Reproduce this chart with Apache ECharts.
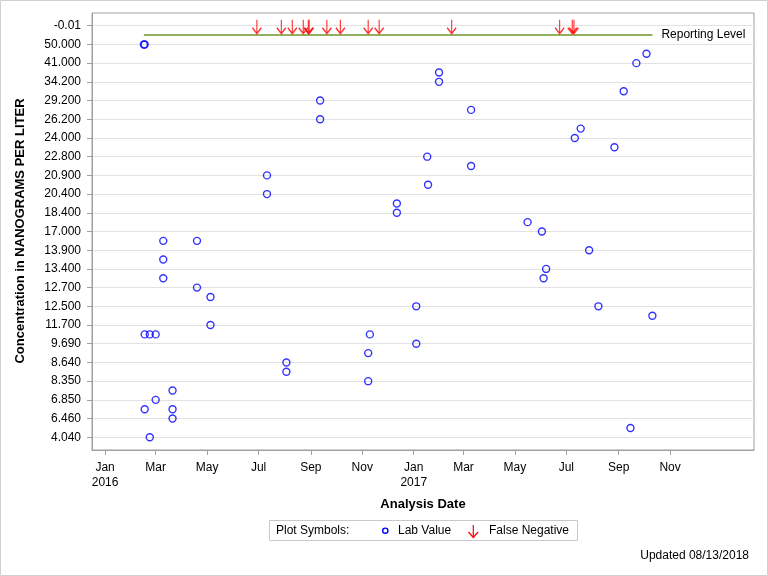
<!DOCTYPE html>
<html>
<head>
<meta charset="utf-8">
<script src="https://cdn.jsdelivr.net/npm/echarts@6/dist/echarts.min.js"></script>
<style>
html,body{margin:0;padding:0;background:#fff}
#chart{width:768px;height:576px}
</style>
</head>
<body>
<div id="chart"></div>
<script>
// Y axis: ordinal concentration levels, bottom (position 0) to top (position 22)
const yTickLabels = ['4.040','6.460','6.850','8.350','8.640','9.690','11.700','12.500','12.700','13.400','13.900',
  '17.000','18.400','20.400','20.900','22.800','24.000','26.200','29.200','34.200','41.000','50.000','-0.01'];

// X axis ticks
const xTickDates = ['2016-01-01','2016-03-01','2016-05-01','2016-07-01','2016-09-01','2016-11-01',
  '2017-01-01','2017-03-01','2017-05-01','2017-07-01','2017-09-01','2017-11-01'];
const xTickLabels = ['Jan\n2016','Mar','May','Jul','Sep','Nov','Jan\n2017','Mar','May','Jul','Sep','Nov'];
const xRange = ['2015-12-16T12:00','2018-02-08T12:00'];

// Lab values: analysis date and position on the ranked concentration axis
const labDates = ['2016-02-16','2016-02-17','2016-02-17','2016-02-23','2016-03-01','2016-02-17','2016-02-23','2016-03-01',
  '2016-03-10','2016-03-10','2016-03-10','2016-03-21','2016-03-21','2016-03-21','2016-04-19','2016-04-19',
  '2016-05-05','2016-05-05','2016-07-11','2016-07-11','2016-08-03','2016-08-03','2016-09-12','2016-09-12',
  '2016-11-08','2016-11-08','2016-11-10','2016-12-12','2016-12-12','2017-01-04','2017-01-04','2017-01-17',
  '2017-01-18','2017-01-31','2017-01-31','2017-03-10','2017-03-10','2017-05-16','2017-06-02','2017-06-04',
  '2017-06-07','2017-07-11','2017-07-18','2017-07-28','2017-08-08','2017-08-27','2017-09-07','2017-09-15',
  '2017-09-22','2017-10-04','2017-10-11'];
const labLevels = [21,21,5.5,5.5,5.5,1.5,0,2,
  10.5,9.5,8.5,2.5,1.5,1,10.5,8,
  7.5,6,14,13,4,3.5,18,17,
  4.5,3,5.5,12.5,12,7,5,15,
  13.5,19.5,19,17.5,14.5,11.5,11,8.5,
  9,16,16.5,10,7,15.5,18.5,0.5,
  20,20.5,6.5];

// False negatives: plotted at the "-0.01" level
const falseNegDates = ['2016-06-29','2016-07-28','2016-08-10','2016-08-23','2016-08-29','2016-08-30','2016-09-20',
  '2016-10-06','2016-11-08','2016-11-21','2017-02-15','2017-06-23','2017-07-08','2017-07-10'];
const falseNegLevel = 22;

// Reporting level line
const reportingLevelDates = ['2016-02-16','2017-10-11'];
const reportingLevelPos = 21.5;

const t = s => Date.parse((s.length === 10 ? s + 'T00:00' : s) + ':00Z');
const xTickValues = xTickDates.map(t);
const yTickValues = yTickLabels.map((_, i) => i);
const FONT = "'Liberation Sans', Arial, sans-serif";
const ARROW = 'path://M4.5,0L4.5,14M0,8L4.5,14L9,8';

const chart = echarts.init(document.getElementById('chart'), null, {renderer: 'canvas'});
chart.setOption({
  animation: false,
  backgroundColor: '#fff',
  textStyle: {fontFamily: FONT},
  grid: {left: 92, right: 14, top: 13, bottom: 126, show: true, borderColor: '#a0a0a0', borderWidth: 1,
         containLabel: false, outerBoundsMode: 'none'},
  xAxis: {
    type: 'value',
    min: t(xRange[0]), max: t(xRange[1]),
    axisLine: {show: true, onZero: false, lineStyle: {color: '#a0a0a0'}},
    axisTick: {show: true, customValues: xTickValues, length: 5, lineStyle: {color: '#a0a0a0'}},
    axisLabel: {customValues: xTickValues, margin: 10, fontSize: 12, color: '#000', fontFamily: FONT, lineHeight: 15,
      formatter: v => { const i = xTickValues.indexOf(v); return i >= 0 ? xTickLabels[i] : ''; }},
    splitLine: {show: false}
  },
  yAxis: {
    type: 'value',
    min: -0.68, max: 22.68,
    axisLine: {show: true, onZero: false, lineStyle: {color: '#a0a0a0'}},
    axisTick: {show: true, customValues: yTickValues, length: 5, lineStyle: {color: '#a0a0a0'}},
    axisLabel: {customValues: yTickValues, margin: 11, fontSize: 12, color: '#000', fontFamily: FONT,
      formatter: v => yTickLabels[Math.round(v)]},
    splitLine: {show: true, lineStyle: {color: '#e2e2e2', width: 1}}
  },
  series: [
    {
      name: 'Reporting Level', type: 'line', silent: true, symbol: 'none',
      data: reportingLevelDates.map(d => [t(d), reportingLevelPos]),
      lineStyle: {color: '#94AF5B', width: 2},
      endLabel: {show: true, formatter: 'Reporting Level', color: '#000', fontSize: 12, fontFamily: FONT, distance: 9},
      z: 2
    },
    {
      name: 'Lab Value', type: 'scatter', symbol: 'circle', symbolSize: 7,
      data: labDates.map((d, i) => [t(d), labLevels[i]]),
      itemStyle: {color: 'none', borderColor: '#0000ff', borderWidth: 1.4},
      z: 3
    },
    {
      name: 'False Negative', type: 'scatter', symbol: ARROW, symbolSize: [9, 14], symbolOffset: [0, 1],
      data: falseNegDates.map(d => [t(d), falseNegLevel]),
      itemStyle: {color: 'none', borderColor: '#ff0000', borderWidth: 1.4},
      z: 4
    }
  ],
  graphic: [
    {type: 'rect', silent: true, shape: {x: 0.5, y: 0.5, width: 767, height: 575},
     style: {fill: 'none', stroke: '#d0d0d0', lineWidth: 1}},
    {type: 'text', silent: true, x: 20, y: 231, rotation: Math.PI / 2,
     style: {text: 'Concentration in NANOGRAMS PER LITER', font: "bold 13px 'Liberation Sans', Arial, sans-serif",
             fill: '#000', align: 'center', verticalAlign: 'middle'}},
    {type: 'text', silent: true, x: 423, y: 504,
     style: {text: 'Analysis Date', font: "bold 13px 'Liberation Sans', Arial, sans-serif",
             fill: '#000', align: 'center', verticalAlign: 'middle'}},
    {type: 'rect', silent: true, shape: {x: 269.5, y: 520.5, width: 308, height: 20},
     style: {fill: '#fff', stroke: '#c8c8c8', lineWidth: 1}},
    {type: 'text', silent: true, x: 276, y: 531,
     style: {text: 'Plot Symbols:', font: "12px 'Liberation Sans', Arial, sans-serif", fill: '#000', verticalAlign: 'middle'}},
    {type: 'circle', silent: true, shape: {cx: 385.3, cy: 530.7, r: 2.6},
     style: {fill: 'none', stroke: '#0000ff', lineWidth: 1.4}},
    {type: 'text', silent: true, x: 398, y: 531,
     style: {text: 'Lab Value', font: "12px 'Liberation Sans', Arial, sans-serif", fill: '#000', verticalAlign: 'middle'}},
    {type: 'line', silent: true, shape: {x1: 473.3, y1: 525, x2: 473.3, y2: 537.5},
     style: {stroke: '#ff0000', lineWidth: 1.2}},
    {type: 'polyline', silent: true, shape: {points: [[468.5, 532], [473.3, 537.5], [478.1, 532]]},
     style: {fill: 'none', stroke: '#ff0000', lineWidth: 1.2}},
    {type: 'text', silent: true, x: 489, y: 531,
     style: {text: 'False Negative', font: "12px 'Liberation Sans', Arial, sans-serif", fill: '#000', verticalAlign: 'middle'}},
    {type: 'text', silent: true, x: 749, y: 556,
     style: {text: 'Updated 08/13/2018', font: "12px 'Liberation Sans', Arial, sans-serif", fill: '#000',
             align: 'right', verticalAlign: 'middle'}}
  ]
});
</script>
</body>
</html>
